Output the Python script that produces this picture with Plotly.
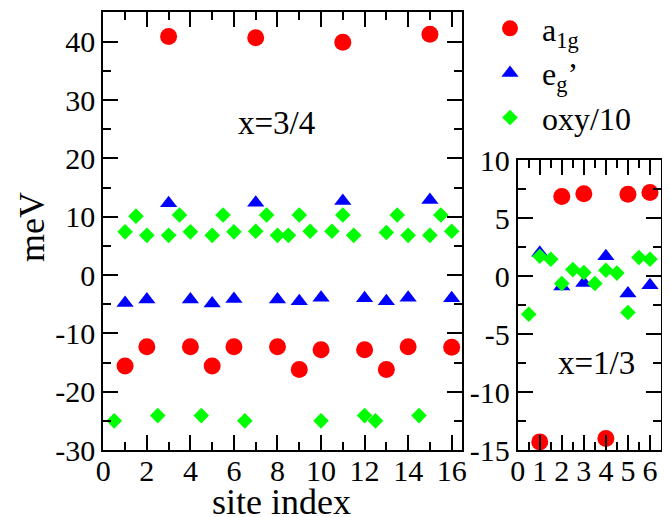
import plotly.graph_objects as go

# ---------------- data ----------------
# left panel: x = 3/4
site_left = list(range(1, 17))
a1g_left = [-15.6, -12.3, 40.9, -12.3, -15.6, -12.3, 40.7, -12.3,
            -16.2, -12.8, 39.9, -12.8, -16.2, -12.3, 41.3, -12.4]
eg_left = [-4.8, -4.2, 12.3, -4.2, -4.9, -4.1, 12.4, -4.2,
           -4.5, -3.9, 12.7, -4.0, -4.5, -3.9, 12.85, -4.0]
oxy_site_left = [0.5, 1, 1.5, 2, 2.5, 3, 3.5, 4, 4.5, 5, 5.5, 6, 6.5, 7, 7.5, 8,
                 8.5, 9, 9.5, 10, 10.5, 11, 11.5, 12, 12.5, 13, 13.5, 14, 14.5, 15, 15.5, 16]
oxy_left = [-25.0, 7.4, 10.1, 6.8, -24.1, 6.8, 10.3, 7.4, -24.1, 6.8, 10.3, 7.4,
            -25.0, 7.5, 10.3, 6.8, 6.8, 10.3, 7.5, -25.0, 7.5, 10.3, 6.8, -24.1,
            -25.0, 7.3, 10.3, 6.8, -24.1, 6.8, 10.3, 7.5]

# right panel: x = 1/3
site_right = [1, 2, 3, 4, 5, 6]
a1g_right = [-14.3, 6.85, 7.1, -14.0, 7.05, 7.2]
eg_right = [2.0, -0.9, -0.6, 1.7, -1.5, -0.8]
oxy_site_right = [0.5, 1, 1.5, 2, 2.5, 3, 3.5, 4, 4.5, 5, 5.5, 6]
oxy_right = [-3.3, 1.7, 1.45, -0.65, 0.55, 0.3, -0.65, 0.5, 0.25, -3.15, 1.6, 1.45]

# tick labels
yticks_left = [-30, -20, -10, 0, 10, 20, 30, 40]
xticks_left = [0, 2, 4, 6, 8, 10, 12, 14, 16]
yticks_right = [-15, -10, -5, 0, 5, 10]
xticks_right = [0, 1, 2, 3, 4, 5, 6]

names = ["a<sub>1g</sub>", "e<sub>g</sub>\u2019", "oxy/10"]
colors = ["#ff0000", "#0000ff", "#00ff00"]
symbols = ["circle", "triangle-up", "diamond"]
sizes = [17, 15, 12]

FONT = "Liberation Serif"
W, H = 670, 517
OFF = 8  # page body margin of the browser


def px_x(p):
    return (p - OFF) / W


def px_y(p):
    return 1 - (p - OFF) / H


fig = go.Figure()

left_sets = [(site_left, a1g_left), (site_left, eg_left), (oxy_site_left, oxy_left)]
right_sets = [(site_right, a1g_right), (site_right, eg_right), (oxy_site_right, oxy_right)]

for i, (xs, ys) in enumerate(left_sets):
    fig.add_trace(go.Scatter(x=xs, y=ys, mode="markers", name=names[i],
                             marker=dict(color=colors[i], symbol=symbols[i], size=sizes[i],
                                         line=dict(width=0)),
                             xaxis="x", yaxis="y", showlegend=True, cliponaxis=False))
for i, (xs, ys) in enumerate(right_sets):
    fig.add_trace(go.Scatter(x=xs, y=ys, mode="markers", name=names[i],
                             marker=dict(color=colors[i], symbol=symbols[i], size=sizes[i],
                                         line=dict(width=0)),
                             xaxis="x2", yaxis="y2", showlegend=False, cliponaxis=False))


def lab(vals):
    return [str(v) for v in vals]


axis_common = dict(showline=True, linewidth=2, linecolor="black", mirror="allticks",
                   ticks="inside", ticklen=15, tickwidth=1.5, tickcolor="black",
                   showgrid=False, zeroline=False, tickmode="array",
                   tickfont=dict(family=FONT, size=30, color="black"))
minor_common = dict(ticks="inside", ticklen=8, tickwidth=1.5, tickcolor="black")

fig.update_layout(
    width=W, height=H,
    margin=dict(l=0, r=0, t=0, b=0, autoexpand=False),
    paper_bgcolor="white", plot_bgcolor="white",
    font=dict(family=FONT, color="black"),
    xaxis=dict(domain=[px_x(103.3), px_x(461.7)], range=[0, 16.46],
               tickvals=xticks_left, ticktext=lab(xticks_left),
               minor=dict(dtick=1, tick0=0, **minor_common),
               ticklabelstandoff=-7,
               anchor="y", **axis_common),
    yaxis=dict(domain=[px_y(450), px_y(12)], range=[-30, 45.1],
               tickvals=yticks_left, ticktext=lab(yticks_left),
               minor=dict(dtick=5, tick0=0, **minor_common),
               anchor="x", **axis_common),
    xaxis2=dict(domain=[px_x(517.7), px_x(661)], range=[0, 6.5],
                tickvals=xticks_right, ticktext=lab(xticks_right),
                minor=dict(dtick=0.5, tick0=0, **minor_common),
                ticklabelstandoff=-7,
                anchor="y2", **axis_common),
    yaxis2=dict(domain=[px_y(450), px_y(160)], range=[-15, 10],
                tickvals=yticks_right, ticktext=lab(yticks_right),
                minor=dict(dtick=2.5, tick0=0, **minor_common),
                anchor="x2", **axis_common),
    legend=dict(x=px_x(478), y=px_y(1), xanchor="left", yanchor="top",
                bgcolor="rgba(0,0,0,0)", font=dict(family=FONT, size=32, color="black"),
                itemsizing="trace", tracegroupgap=0, itemwidth=54),
    annotations=[
        dict(text="x=3/4", x=7.95, y=26.0, xref="x", yref="y", showarrow=False,
             xanchor="center", yanchor="middle",
             font=dict(family=FONT, size=33, color="black")),
        dict(text="x=1/3", x=3.58, y=-7.5, xref="x2", yref="y2", showarrow=False,
             xanchor="center", yanchor="middle",
             font=dict(family=FONT, size=33, color="black")),
        dict(text="meV", x=px_x(32), y=px_y(227), xref="paper", yref="paper", showarrow=False,
             xanchor="center", yanchor="middle",
             textangle=-90, font=dict(family=FONT, size=36, color="black")),
        dict(text="site index", x=px_x(281.7), y=px_y(502), xref="paper", yref="paper",
             xanchor="center", yanchor="middle",
             showarrow=False, font=dict(family=FONT, size=36, color="black")),
    ],
)

fig.write_html("out.html")
